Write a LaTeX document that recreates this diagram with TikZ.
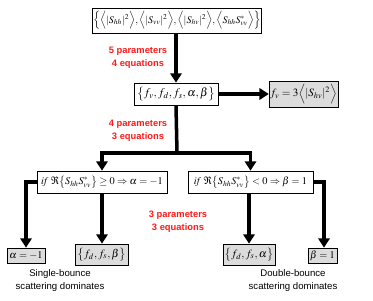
\documentclass[tikz,border=0pt]{standalone}
\usepackage{mathptmx}
\usepackage[no-math]{fontspec}
\setmainfont{Liberation Serif}
\setsansfont{Liberation Sans}
\usetikzlibrary{arrows.meta,calc,positioning}
\definecolor{Ink}{HTML}{000000}
\definecolor{Shade}{HTML}{DCDCDC}
\definecolor{Alert}{HTML}{FF1A1A}
\tikzset{
  mathbox/.style={
    draw=Ink, line width=0.6pt, fill=white, inner sep=0.8pt,
    align=center, font=\fontsize{9.5}{11}\selectfont
  },
  resultbox/.style={mathbox, fill=Shade},
  flow/.style={-{Triangle[length=2.8mm,width=3.4mm]}, line width=3pt, draw=Ink},
  bareflow/.style={line width=3pt, draw=Ink},
  countlabel/.style={text=Alert, align=center, font=\sffamily\bfseries\fontsize{8}{11}\selectfont},
  notelabel/.style={text=Ink, align=center, font=\sffamily\fontsize{8.2}{11.5}\selectfont}
}
\begin{document}
\begin{tikzpicture}[x=0.03cm,y=-0.03cm]
        \useasboundingbox (0,0) rectangle (373,300);
        \node[mathbox,font=\fontsize{8.6}{10}\selectfont,minimum width=166*0.03cm,minimum height=25*0.03cm] (obs) at (177,20.5)
          {$\Bigl\{\Bigl\langle|S_{hh}|^2\Bigr\rangle,\Bigl\langle|S_{vv}|^2\Bigr\rangle,\Bigl\langle|S_{hv}|^2\Bigr\rangle,\Bigl\langle S_{hh}S_{vv}^*\Bigr\rangle\Bigr\}$};
        \node[mathbox,font=\fontsize{10}{12}\selectfont,minimum width=84*0.03cm,minimum height=22*0.03cm] (unk) at (176,94)
          {$\bigl\{f_v,f_d,f_s,\alpha,\beta\bigr\}$};
        \node[resultbox,minimum width=67*0.03cm,minimum height=26*0.03cm] (fv) at (303.5,94)
          {$f_v=3\Bigl\langle|S_{hv}|^2\Bigr\rangle$};
        \node[mathbox,font=\fontsize{8.8}{10}\selectfont,minimum width=130*0.03cm,minimum height=22*0.03cm] (ifa) at (102,182)
          {$\mathit{if}\ \Re\bigl\{S_{hh}S_{vv}^*\bigr\}\geq0\Rightarrow\alpha=-1$};
        \node[mathbox,font=\fontsize{8.8}{10}\selectfont,minimum width=125*0.03cm,minimum height=22*0.03cm] (ifb) at (250.5,182)
          {$\mathit{if}\ \Re\bigl\{S_{hh}S_{vv}^*\bigr\}<0\Rightarrow\beta=1$};
        \node[resultbox,font=\fontsize{8.8}{10}\selectfont,minimum width=38*0.03cm,minimum height=15*0.03cm] (alpha) at (26,255.5) {$\alpha=-1$};
        \node[resultbox,minimum width=53*0.03cm,minimum height=21*0.03cm] (rest1) at (101.5,254.5) {$\bigl\{f_d,f_s,\beta\bigr\}$};
        \node[resultbox,minimum width=52*0.03cm,minimum height=21*0.03cm] (rest2) at (249,254.5) {$\bigl\{f_d,f_s,\alpha\bigr\}$};
        \node[resultbox,font=\fontsize{8.8}{10}\selectfont,minimum width=29*0.03cm,minimum height=15*0.03cm] (beta) at (322.5,255.5) {$\beta=1$};
        % red counts
        \node[countlabel] (c1) at (138,57.5) {5 parameters\\4 equations};
        \node[countlabel] (c2) at (138,130.5) {4 parameters\\3 equations};
        \node[countlabel] (c3) at (178,221.5) {3 parameters\\3 equations};
        \node[notelabel] (single) at (60,280.5) {Single-bounce\\scattering dominates};
        \node[notelabel] (double) at (293,280.5) {Double-bounce\\scattering dominates};
        \coordinate (split) at (177,153);
        \draw[flow] (obs.south -| unk.north) -- (unk.north);
        \draw[flow] (unk.east) -- (fv.west);
        \draw[bareflow] (unk.south) -- (split);
        \draw[flow] ($(split)+(1.5,0)$) -| (ifa.north);
        \draw[flow] ($(split)-(1.5,0)$) -| (ifb.north);
        \draw[flow] (ifa.west) -| (alpha.north);
        \draw[flow] (ifa.south) -- (ifa.south |- rest1.north);
        \draw[flow] (ifb.south -| rest2.north) -- (rest2.north);
        \draw[flow] (ifb.east) -| ([xshift=1.5*0.03cm]beta.north);
      \end{tikzpicture}
\end{document}
